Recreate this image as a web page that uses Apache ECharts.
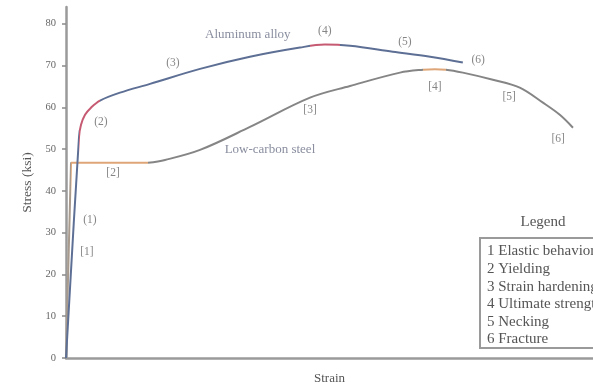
<!DOCTYPE html>
<html><head><meta charset="utf-8">
<script src="https://cdn.jsdelivr.net/npm/echarts@6/dist/echarts.min.js"></script>
<style>html,body{margin:0;padding:0;background:#fff}#chart{width:593px;height:383px}</style>
</head><body><div id="chart"></div>
<script>
// Stress (ksi) against strain (linear, unlabelled units) for two metals
const aluminumStrain = [0, 2.47, 2.85, 3.61, 4.74, 6.45, 10.25, 15.94, 25.43, 34.9, 44.4, 49.1, 53.9, 62.0, 69.1, 75.3];
const aluminumStress = [0, 52.9, 55.8, 58.2, 59.9, 61.6, 63.5, 65.6, 69.2, 72.1, 74.3, 75.0, 74.7, 73.3, 72.1, 70.7];
const aluminumStageBreaks = [2.47, 6.45, 46.3, 52.0];

const steelStrain = [0, 0.95, 15.56, 18.79, 25.43, 34.91, 46.30, 53.89, 63.38, 67.74, 70.0, 72.1, 75.3, 81.0, 86.1, 90.5, 93.7, 96.2];
const steelStress = [0, 46.7, 46.7, 47.4, 49.8, 55.3, 62.3, 65.1, 68.3, 69.0, 69.1, 69.0, 68.3, 66.6, 64.7, 61.1, 58.2, 55.1];
const steelStageBreaks = [0.95, 15.56, 67.74, 72.1];

// Stage markers placed beside each curve (strain, stress)
const aluminumStageLabels = ['(1)', '(2)', '(3)', '(4)', '(5)', '(6)'];
const aluminumLabelAt = [[4.55, 33.1], [6.64, 56.5], [20.3, 70.7], [49.1, 78.3], [64.3, 75.7], [78.2, 71.4]];
const steelStageLabels = ['[1]', '[2]', '[3]', '[4]', '[5]', '[6]'];
const steelLabelAt = [[3.98, 25.4], [8.92, 44.3], [46.3, 59.4], [70.0, 64.9], [84.1, 62.5], [93.4, 52.5]];
const curveNames = ['Aluminum alloy', 'Low-carbon steel'];
const curveNameAt = [[34.5, 77.3], [38.7, 49.8]];

const stressTicks = [0, 10, 20, 30, 40, 50, 60, 70, 80];
const legendTitle = 'Legend';
const legendItems = ['1 Elastic behavior', '2 Yielding', '3 Strain hardening', '4 Ultimate strength', '5 Necking', '6 Fracture'];

const FONT = 'Liberation Serif';
const BLUE = '#5d6f94', RED = '#c65a72', GREY = '#858585', ORANGE = '#dea678', TAN = '#a89a8c';

const zip = (xs, ys) => xs.map((x, i) => [x, ys[i]]);
function stagePieces(breaks, colors) {
  const out = [{ lt: breaks[0], color: colors[0] }];
  for (let i = 0; i < breaks.length; i++) {
    const p = { gte: breaks[i], color: colors[i + 1] };
    if (i + 1 < breaks.length) p.lt = breaks[i + 1];
    out.push(p);
  }
  return out;
}
const notes = (at, texts) => at.map((p, i) => [p[0], p[1], texts[i]]);

const aluminumPts = zip(aluminumStrain, aluminumStress);
const steelPts = zip(steelStrain, steelStress);

const chart = echarts.init(document.getElementById('chart'), null, { renderer: 'canvas' });

const legendTop = 238, legendLeft = 480, rowH = 17.6;
const graphics = [
  { type: 'text', x: 543, y: 222,
    style: { text: legendTitle, font: '15px "' + FONT + '"', fill: '#555', align: 'center', verticalAlign: 'middle' } },
  { type: 'rect', shape: { x: legendLeft, y: legendTop, width: 130, height: 110 },
    style: { fill: '#fff', stroke: '#9a9a9a', lineWidth: 2 } }
];
legendItems.forEach((t, i) => {
  graphics.push({ type: 'text', x: legendLeft + 7, y: legendTop + 13.5 + i * rowH,
    style: { text: t, font: '15px "' + FONT + '"', fill: '#555', verticalAlign: 'middle' } });
});

chart.setOption({
  animation: false,
  backgroundColor: '#fff',
  grid: { left: 66, right: 0, top: 7, bottom: 25, outerBoundsMode: 'none', containLabel: false },
  xAxis: {
    type: 'value', min: 0, max: 100,
    name: 'Strain', nameLocation: 'middle', nameGap: 14,
    nameTextStyle: { fontFamily: FONT, fontSize: 13, color: '#555' },
    axisLine: { lineStyle: { color: '#9a9a9a', width: 2.5 } },
    axisTick: { show: false }, axisLabel: { show: false }, splitLine: { show: false }
  },
  yAxis: {
    type: 'value', min: 0, max: 84,
    name: 'Stress (ksi)', nameLocation: 'middle', nameGap: 32,
    nameTextStyle: { fontFamily: FONT, fontSize: 13.5, color: '#555' },
    axisLine: { show: true, lineStyle: { color: '#9a9a9a', width: 2.5 } },
    axisTick: { show: true, length: 4, customValues: stressTicks, lineStyle: { color: '#8a8a8a', width: 1.5 } },
    axisLabel: { customValues: stressTicks, margin: 10, fontFamily: FONT, fontSize: 10.5, color: '#666' },
    splitLine: { show: false }
  },
  visualMap: [
    { type: 'piecewise', show: false, dimension: 0, seriesIndex: 0,
      pieces: stagePieces(aluminumStageBreaks, [BLUE, RED, BLUE, RED, BLUE]) },
    { type: 'piecewise', show: false, dimension: 0, seriesIndex: [1, 2],
      pieces: stagePieces(steelStageBreaks, [TAN, ORANGE, GREY, ORANGE, GREY]) }
  ],
  series: [
    { name: curveNames[0], type: 'line', data: aluminumPts, smooth: 0.35, showSymbol: false,
      lineStyle: { width: 2 }, z: 3 },
    { name: curveNames[1], type: 'line', data: steelPts.slice(0, 3), showSymbol: false,
      lineStyle: { width: 2 }, z: 2 },
    { name: curveNames[1], type: 'line', data: steelPts.slice(2), smooth: 0.35, showSymbol: false,
      lineStyle: { width: 2 }, z: 2 },
    { type: 'scatter', symbolSize: 0, silent: true, z: 5,
      data: notes(aluminumLabelAt, aluminumStageLabels).concat(notes(steelLabelAt, steelStageLabels)),
      label: { show: true, position: 'inside', formatter: p => p.data[2],
        fontFamily: FONT, fontSize: 11.5, color: '#666' } },
    { type: 'scatter', symbolSize: 0, silent: true, z: 5,
      data: notes(curveNameAt, curveNames),
      label: { show: true, position: 'inside', formatter: p => p.data[2],
        fontFamily: FONT, fontSize: 13, color: '#6a7186' } }
  ],
  graphic: graphics
});
</script></body></html>
